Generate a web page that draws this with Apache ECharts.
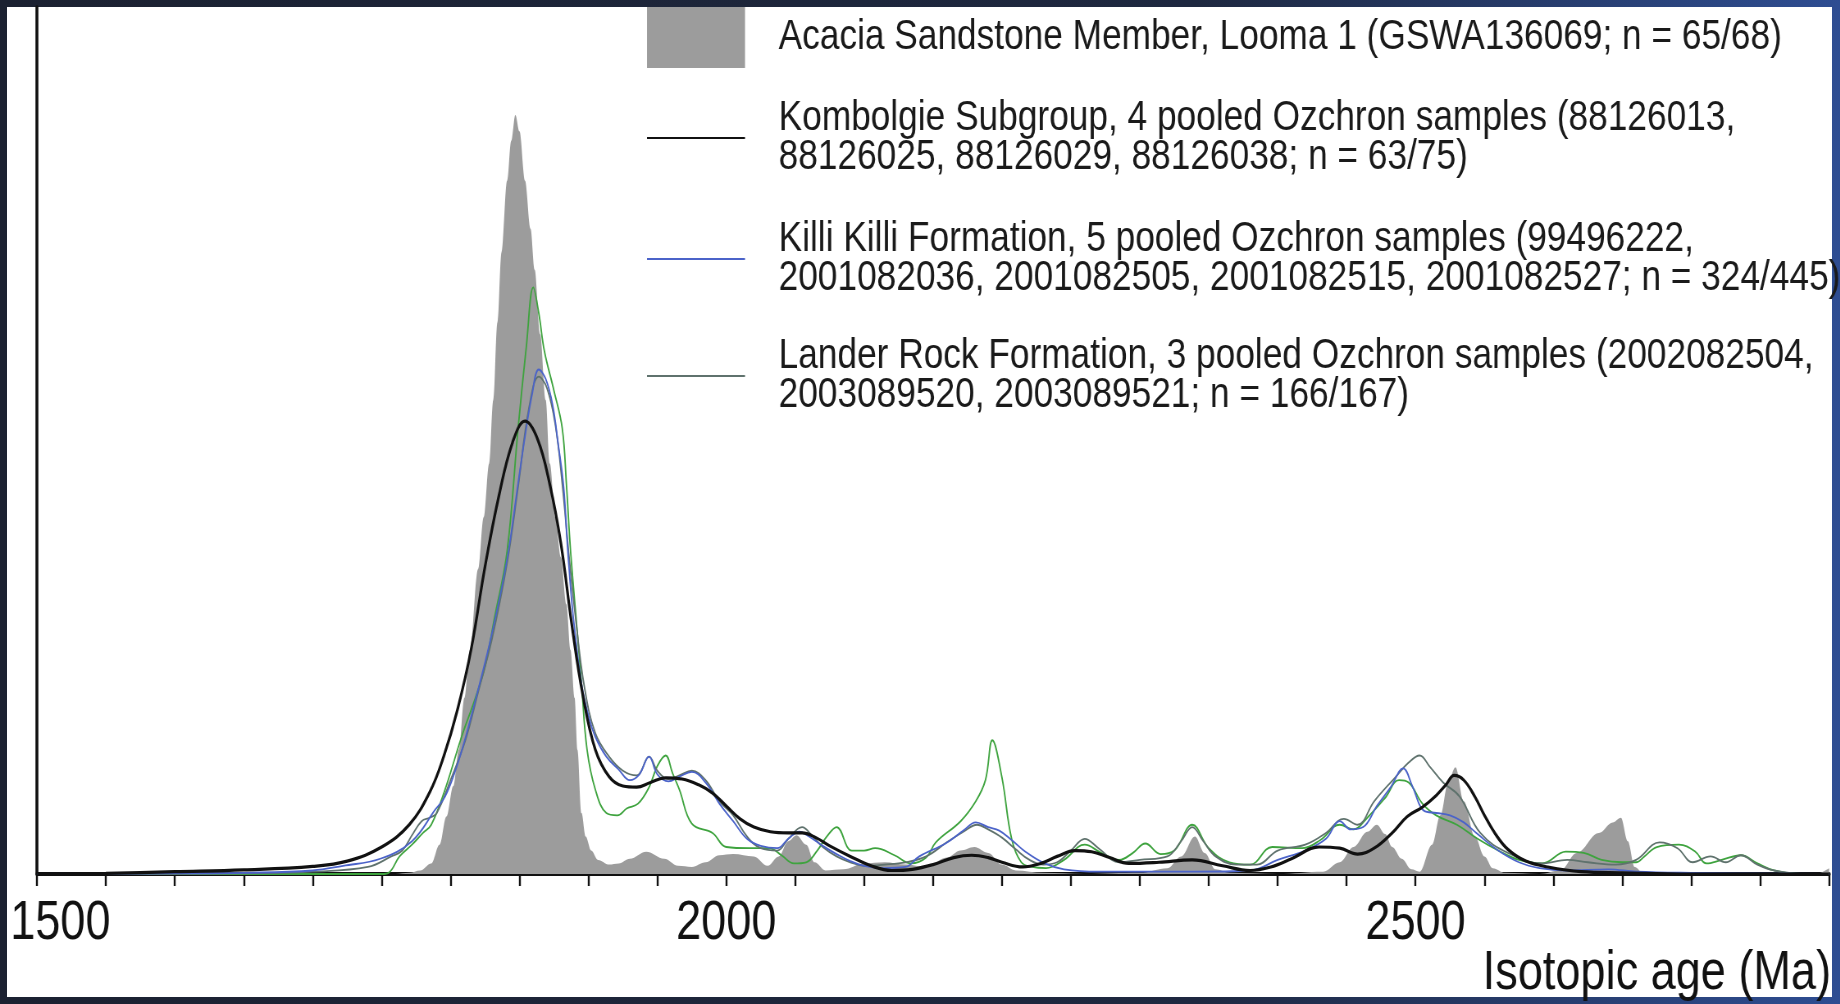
<!DOCTYPE html>
<html lang="en">
<head>
<meta charset="UTF-8">
<title>Isotopic age comparison</title>
<style>
  html, body { margin: 0; padding: 0; }
  body {
    width: 1840px; height: 1004px; position: relative; overflow: hidden;
    background: linear-gradient(90deg, #1b2131 0%, #1e2840 65%, #2e4d92 100%);
  }
  #sheet { position: absolute; left: 7px; top: 7px; width: 1825px; height: 990px; background: #fff; }
  /* the source figure uses a narrow Helvetica; squeeze the whole drawing horizontally */
  #chart { position: absolute; left: 0; top: 0; width: 2244px; height: 1004px; transform: scaleX(0.82); transform-origin: 0 0; }
</style>
</head>
<body>
<div id="sheet"></div>
<div id="chart"></div>
<script src="https://cdn.jsdelivr.net/npm/echarts@6/dist/echarts.min.js"></script>
<script type="text/javascript">
    const FONT = "'Liberation Sans', Arial, Helvetica, sans-serif";
    const SQ = 0.82; // horizontal squeeze of #chart

    // series names (legend text)
    const ACACIA = 'Acacia Sandstone Member, Looma 1 (GSWA136069; n = 65/68)';
    const KOMBOLGIE = 'Kombolgie Subgroup, 4 pooled Ozchron samples (88126013,\n88126025, 88126029, 88126038; n = 63/75)';
    const KILLI = 'Killi Killi Formation, 5 pooled Ozchron samples (99496222,\n2001082036, 2001082505, 2001082515, 2001082527; n = 324/445)';
    const LANDER = 'Lander Rock Formation, 3 pooled Ozchron samples (2002082504,\n2003089520, 2003089521; n = 166/167)';
    const UNLABELLED = 'unlabelled curve';

    // x axis ticks
    const ageMin = 1500;
    const ageMax = 2800;
    const tickStep = 50;
    const labelStep = 500;

    // [age (Ma), relative probability]
    const acacia = [[1500,0],[1760,0],[1770,1],[1778,3],[1786,9],[1792,25],[1797,49],[1802,75],[1806,106],[1810,150],
        [1814,191],[1820,260],[1824,304],[1828,350],[1831,404],[1834,470],[1837,530],[1841,591],[1844,625],[1847,647],
        [1850,633],[1854,591],[1858,550],[1861,515],[1865,460],[1869,404],[1872,350],[1876,304],[1880,270],[1884,230],
        [1887,191],[1890,150],[1892,106],[1895,52],[1898,32],[1902,20],[1907,12],[1915,8],[1922,9],[1930,13],
        [1942,19],[1955,13],[1965,7],[1975,6],[1985,10],[1995,16],[2005,17],[2020,15],[2030,7],[2038,15],
        [2045,28],[2051,33],[2058,25],[2064,10],[2072,3],[2085,4],[2100,9],[2115,10],[2130,8],[2145,6],
        [2160,14],[2170,20],[2180,23],[2190,18],[2200,8],[2210,3],[2230,1],[2260,0],[2300,1],[2320,5],
        [2330,15],[2340,32],[2347,18],[2355,4],[2365,1],[2400,0],[2433,2],[2445,10],[2455,23],[2465,36],
        [2472,42],[2478,34],[2483,23],[2490,13],[2497,4],[2503,2],[2512,25],[2518,50],[2524,80],[2529,91],
        [2535,62],[2543,32],[2550,15],[2556,5],[2565,1],[2590,0],[2605,3],[2617,18],[2633,35],[2643,44],
        [2649,48],[2654,28],[2659,6],[2665,1],[2700,0],[2790,0],[2800,5]];

    const kombolgie = [[1500,0],[1550,0.5],[1600,2],[1650,3.5],[1700,6.5],[1725,11],[1750,23],[1770,42],[1785,70],[1795,100],
        [1805,140],[1815,192],[1825,262],[1835,322],[1845,368],[1854,386],[1863,371],[1872,332],[1880,282],[1888,212],
        [1896,152],[1905,106],[1915,83],[1925,75],[1935,74],[1945,78],[1956,82],[1968,81],[1980,76],[1990,69],
        [2000,58],[2010,47],[2020,40],[2032,36],[2045,35],[2055,35],[2065,31],[2075,24],[2090,15],[2105,7],
        [2120,3],[2135,4],[2150,8],[2165,14],[2178,16],[2190,14],[2200,10],[2215,6],[2228,9],[2240,15],
        [2253,20],[2265,19],[2278,14],[2292,9],[2314,10],[2338,12],[2360,7],[2380,3],[2395,6],[2410,13],
        [2430,23],[2445,22],[2458,17],[2470,22],[2483,35],[2494,49],[2505,57],[2515,67],[2522,76],[2528,84],
        [2535,80],[2543,66],[2550,50],[2558,34],[2567,21],[2580,11],[2596,6],[2620,2],[2650,1],[2700,0],[2800,0]];

    const killiKilli = [[1500,0],[1600,0.5],[1650,1],[1700,3],[1722,7],[1749,13],[1772,28],[1789,55],[1796,66],[1804,90],
        [1811,117],[1820,157],[1830,205],[1841,268],[1849,333],[1854,373],[1859,408],[1864,430],[1869,422],[1874,400],
        [1878,367],[1882,330],[1885,276],[1889,219],[1895,162],[1900,135],[1905,117],[1913,100],[1922,89],[1930,80],
        [1937,85],[1944,100],[1950,85],[1958,79],[1966,83],[1975,87],[1985,78],[1995,60],[2005,45],[2015,30],
        [2025,24],[2037,22],[2045,30],[2053,36],[2060,32],[2070,24],[2080,17],[2090,11],[2100,7],[2115,5],
        [2130,6],[2140,15],[2159,26],[2172,37],[2181,44],[2190,40],[2198,37],[2207,29],[2217,19],[2231,9],
        [2245,4],[2270,2],[2300,2],[2340,2],[2380,3],[2400,12],[2420,20],[2435,30],[2445,45],[2453,38],
        [2462,40],[2472,58],[2482,74],[2491,90],[2498,74],[2506,54],[2515,52],[2525,50],[2535,44],[2545,34],
        [2560,20],[2575,10],[2590,5],[2610,3],[2640,4],[2660,2],[2700,1],[2800,0]];

    const landerRock = [[1500,0],[1650,0.5],[1700,2],[1740,6],[1757,15],[1765,20],[1772,33],[1779,45],[1785,48],[1790,52],
        [1800,80],[1811,115],[1820,155],[1830,200],[1841,265],[1849,330],[1857,398],[1864,424],[1870,414],[1876,383],
        [1881,333],[1886,270],[1891,215],[1897,160],[1905,120],[1915,100],[1925,88],[1935,84],[1944,100],[1950,88],
        [1958,81],[1966,84],[1975,88],[1985,80],[1995,62],[2005,50],[2015,32],[2025,22],[2037,20],[2045,30],
        [2055,40],[2062,33],[2070,23],[2080,15],[2090,10],[2100,7],[2115,8],[2130,10],[2145,15],[2160,27],
        [2172,36],[2182,42],[2190,38],[2200,31],[2210,21],[2220,12],[2230,8],[2240,10],[2250,20],[2260,30],
        [2270,22],[2285,10],[2300,12],[2320,15],[2330,28],[2338,40],[2346,28],[2355,15],[2370,8],[2385,8],
        [2400,20],[2420,25],[2435,35],[2448,47],[2458,42],[2470,62],[2485,82],[2495,95],[2503,101],[2510,92],
        [2520,78],[2532,66],[2547,35],[2567,18],[2592,9],[2610,12],[2625,10],[2645,8],[2660,12],[2677,27],
        [2690,22],[2701,10],[2714,15],[2725,10],[2736,16],[2748,8],[2760,3],[2780,0],[2800,0]];

    const greenCurve = [[1500,0],[1750,0],[1755,1],[1763,15],[1772,25],[1780,35],[1786,42],[1796,72],[1808,117],[1818,150],
        [1825,177],[1832,219],[1841,275],[1849,380],[1855,450],[1860,500],[1864,478],[1868,446],[1875,412],[1881,380],
        [1884,333],[1887,276],[1891,219],[1895,162],[1899,106],[1905,72],[1913,52],[1921,50],[1928,56],[1936,60],
        [1944,74],[1950,92],[1956,101],[1961,86],[1966,72],[1975,43],[1990,35],[2000,23],[2017,22],[2031,22],
        [2040,16],[2049,9],[2058,10],[2066,20],[2073,32],[2080,40],[2091,20],[2100,20],[2108,22],[2122,16],
        [2134,9],[2145,14],[2152,27],[2170,45],[2181,62],[2188,80],[2193,114],[2200,82],[2207,30],[2214,10],
        [2222,6],[2232,5],[2245,12],[2260,25],[2272,18],[2285,12],[2295,18],[2304,26],[2315,17],[2325,20],
        [2338,42],[2350,22],[2365,10],[2380,8],[2396,23],[2418,22],[2431,29],[2445,42],[2455,38],[2465,48],
        [2478,65],[2488,80],[2495,78],[2505,60],[2515,50],[2530,42],[2545,30],[2560,20],[2575,12],[2592,9],
        [2609,19],[2622,18],[2635,12],[2650,10],[2660,10],[2666,15],[2675,23],[2691,25],[2703,19],[2711,9],
        [2722,12],[2736,16],[2748,9],[2760,3],[2779,0],[2800,0]];

    const chart = echarts.init(document.getElementById('chart'), null, { width: 2244, height: 1004 });

    const legendText = {
        fontFamily: FONT,
        fontSize: 43,
        lineHeight: 39,
        color: '#1a1a1a',
        padding: [0, 0, 0, 36]
    };

    function legendAt(name, top, extra) {
        return Object.assign({
            data: [{ name: name, icon: 'rect' }],
            left: 647 / SQ,
            top: top,
            orient: 'vertical',
            padding: 0,
            itemWidth: 98 / SQ,
            itemHeight: 2,
            selectedMode: false,
            textStyle: legendText
        }, extra || {});
    }

    function lineSeries(name, points, color, width, z) {
        return {
            name: name,
            type: 'line',
            data: points,
            smooth: 0.4,
            symbol: 'none',
            z: z,
            lineStyle: { color: color, width: width },
            itemStyle: { color: color }
        };
    }

    chart.setOption({
        animation: false,
        grid: { left: 37 / SQ, right: 11 / SQ, top: 7, bottom: 130, outerBoundsMode: 'none', containLabel: false },
        legend: [
            legendAt(ACACIA, 7, { itemHeight: 61 }),
            legendAt(KOMBOLGIE, 97),
            legendAt(KILLI, 218),
            legendAt(LANDER, 335)
        ],
        xAxis: {
            type: 'value',
            min: ageMin,
            max: ageMax,
            interval: tickStep,
            name: 'Isotopic age (Ma)',
            nameLocation: 'end',
            nameGap: 2 / SQ,
            nameTextStyle: {
                fontFamily: FONT, fontSize: 55, color: '#111',
                align: 'right', verticalAlign: 'top', lineHeight: 56,
                padding: [72, 0, 0, 0]
            },
            axisLine: { onZero: false, lineStyle: { color: '#111', width: 4 } },
            axisTick: { length: 12, lineStyle: { color: '#111', width: 2.4 } },
            axisLabel: {
                margin: 22,
                fontFamily: FONT, fontSize: 55, color: '#111', lineHeight: 56,
                formatter: v => v === ageMin ? '{first|' + v + '}' : (v % labelStep === 0 && v < ageMax ? String(v) : ''),
                rich: { first: { fontFamily: FONT, fontSize: 55, color: '#111', lineHeight: 56, padding: [0, 0, 0, 57] } }
            },
            splitLine: { show: false }
        },
        yAxis: {
            type: 'value',
            min: 0,
            max: 739,
            axisLine: { show: true, lineStyle: { color: '#111', width: 3.6 } },
            axisTick: { show: false },
            axisLabel: { show: false },
            splitLine: { show: false }
        },
        series: [
            {
                name: ACACIA,
                type: 'line',
                data: acacia,
                smooth: 0.35,
                smoothMonotone: 'x',
                symbol: 'none',
                z: 1,
                lineStyle: { width: 0, color: '#9c9c9c' },
                itemStyle: { color: '#9c9c9c' },
                areaStyle: { color: '#9c9c9c', opacity: 1 }
            },
            lineSeries(UNLABELLED, greenCurve, '#3ea33e', 1.8, 2),
            lineSeries(LANDER, landerRock, '#5f726d', 1.8, 3),
            lineSeries(KILLI, killiKilli, '#4b63c9', 1.8, 4),
            lineSeries(KOMBOLGIE, kombolgie, '#111111', 3.2, 5)
        ]
    });
</script>
</body>
</html>
